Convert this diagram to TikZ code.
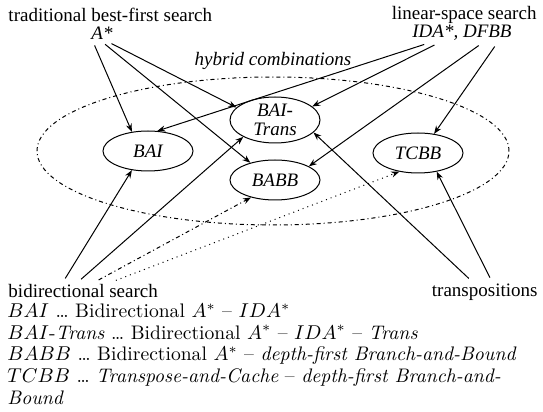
\documentclass[tikz,border=0pt]{standalone}
\usepackage{fontspec}
\newfontfamily\labelfont{Liberation Serif}
\usetikzlibrary{arrows.meta, positioning, shapes.geometric}
\tikzset{
    searchmap/.style={x=0.5pt, y=-0.5pt, >={Stealth[length=4pt,width=3pt]}, line width=0.5pt,
        font=\labelfont\fontsize{9.5}{11}\selectfont},
    family/.style={inner sep=1pt},
    algo/.style={draw, ellipse, minimum width=45pt, minimum height=20pt, inner sep=0pt, align=center,
        font=\labelfont\itshape\fontsize{9.5}{9.5}\selectfont},
    hybrid/.style={draw, ellipse, minimum width=236pt, minimum height=74pt,
        dash pattern=on 2pt off 1.5pt on 0.5pt off 1.5pt},
    link/.style={->, shorten <=2pt},
    % the two weaker links from the bidirectional side
    dashlink/.style={link, dash pattern=on 2pt off 1.5pt on 0.5pt off 1.5pt},
    dotlink/.style={link, dotted},
    legend/.style={inner sep=0pt, align=left, font=\fontsize{9.8}{10.9}\selectfont},
}
\begin{document}
\begin{tikzpicture}[searchmap]
    \useasboundingbox (0,0) rectangle (543,412);

    \node[family, anchor=west]  (trad)   at (6,15)    {traditional best-first search};
    \node[family]               (astar)  at (102,33)  {\textit{A*}};
    \node[family, anchor=east]  (linear) at (539,15)  {linear-space search};
    \node[family]               (idadf)  at (462,33)  {\textit{IDA*, DFBB}};
    \node[family, anchor=west]  (bidir)  at (6,291)   {bidirectional search};
    \node[family, anchor=east]  (transp) at (540,292) {transpositions};

    % hybrid combinations
    \node[hybrid]                             (hyb)    at (273,151) {};
    \node[family, font=\labelfont\itshape\fontsize{9.5}{11}\selectfont]
                                              (hyblab) at (273,61)  {hybrid combinations};
    \node[algo]                               (bai)    at (148,151) {BAI};
    \node[algo, minimum height=23pt]          (bait)   at (275,120) {BAI-\\Trans};
    \node[algo]                               (babb)   at (275,180) {BABB};
    \node[algo]                               (tcbb)   at (418,153) {TCBB};

    \draw[link] ([xshift=-4.5pt]astar.south) -- (bai.130);
    \draw[link] ([xshift=0pt]astar.south)    -- (babb.145);
    \draw[link] ([xshift=3pt]astar.south)    -- (bait.162);

    \draw[link] ([xshift=-17pt]idadf.south)  -- (bai.65);
    \draw[link] ([xshift=-12pt]idadf.south)  -- (bait.20);
    \draw[link] ([xshift=10pt]idadf.south)   -- (babb.22);
    \draw[link] ([xshift=17.5pt]idadf.south) -- (tcbb.50);

    \draw[link]     ([xshift=-10pt]bidir.north)  -- (bai.230);
    \draw[link]     ([xshift=-2.5pt]bidir.north) -- (bait.208);
    \draw[dashlink] ([xshift=6pt]bidir.north)    -- (babb.216);
    \draw[dotlink]  ([xshift=14.5pt]bidir.north) -- (tcbb.225);

    \draw[link] ([xshift=-6.5pt]transp.north) -- (bait.-18);
    \draw[link] ([xshift=3.5pt]transp.north)  -- (tcbb.-45);

    % key
    \node[legend, anchor=north west] (key) at (7,303) {%
        $BAI$ \ldots\ Bidirectional $A^*$ -- $IDA^*$\\
        $BAI$-\textit{Trans} \ldots\ Bidirectional $A^*$ -- $IDA^*$ -- \textit{Trans}\\
        $BABB$ \ldots\ Bidirectional $A^*$ -- \textit{depth-first Branch-and-Bound}\\
        $TCBB$ \ldots\ \textit{Transpose-and-Cache} -- \textit{depth-first Branch-and-}\\
        \textit{Bound}};
\end{tikzpicture}
\end{document}
